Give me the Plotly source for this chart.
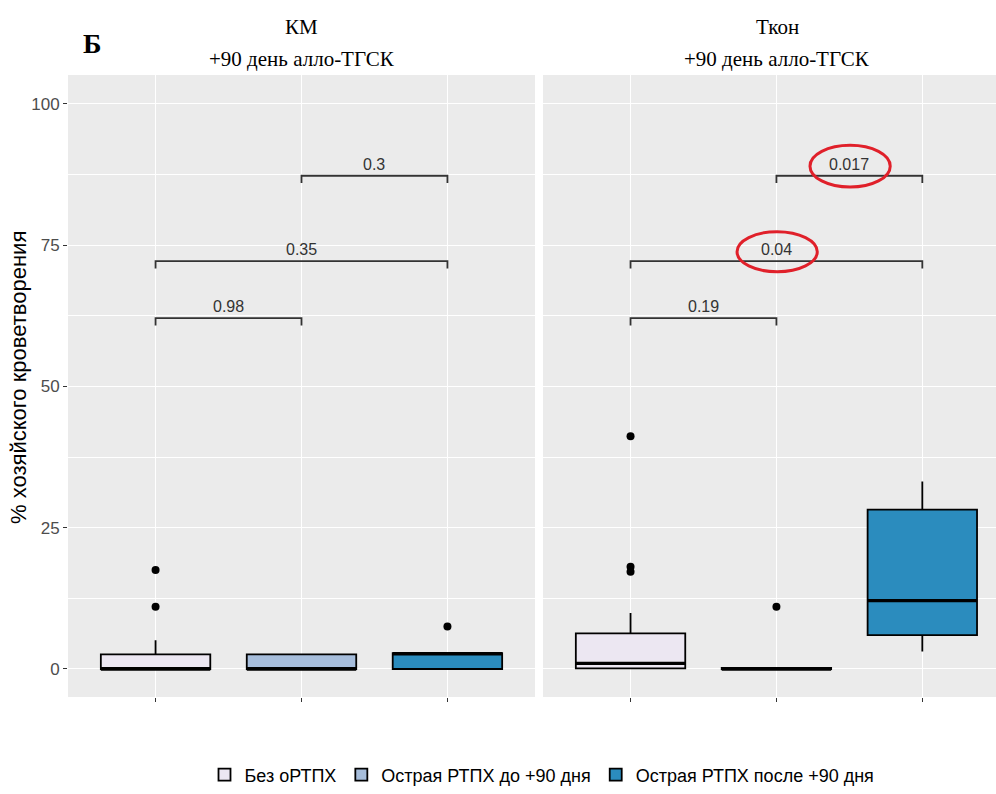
import plotly.graph_objects as go

# ---------------- data ----------------
groups = ["Без оРТПХ", "Острая РТПХ до +90 дня", "Острая РТПХ после +90 дня"]
colors = ["#ECE7F2", "#A6BDDB", "#2B8CBE"]
positions = [1, 2, 3]

panel_titles = ["КМ", "Ткон"]
panel_subtitle = "+90 день алло-ТГСК"

# KM panel (box statistics)
km_q1 = [0.0, 0.0, 0.0]
km_median = [0.0, 0.0, 2.7]
km_q3 = [2.6, 2.6, 2.8]
km_lower = [0.0, 0.0, 0.0]
km_upper = [5.1, 2.6, 2.8]
km_outliers = [[17.5, 11.0], [], [7.5]]

# Tcon panel
tc_q1 = [0.1, 0.0, 6.0]
tc_median = [1.0, 0.0, 12.1]
tc_q3 = [6.3, 0.2, 28.2]
tc_lower = [0.0, 0.0, 3.1]
tc_upper = [9.9, 0.2, 33.2]
tc_outliers = [[41.2, 18.1, 17.2], [11.0], []]

# significance brackets
bracket_pairs = [(1, 2), (1, 3), (2, 3)]
bracket_y = [62.1, 72.2, 87.3]
km_pvalues = ["0.98", "0.35", "0.3"]
tc_pvalues = ["0.19", "0.04", "0.017"]

# highlighted p-values (right panel): x0, x1, y0, y1
highlight_x0 = [1.73, 2.23]
highlight_x1 = [2.28, 2.78]
highlight_y0 = [70.3, 85.3]
highlight_y1 = [77.4, 92.7]

y_ticks = [0, 25, 50, 75, 100]
y_minor = [12.5, 37.5, 62.5, 87.5]

# ---------------- figure ----------------
W, H = 996, 794
BOX_W = 0.75
fig = go.Figure()

panels = [
    dict(xa="x", ya="y", q1=km_q1, med=km_median, q3=km_q3, lo=km_lower, hi=km_upper,
         out=km_outliers, pv=km_pvalues),
    dict(xa="x2", ya="y2", q1=tc_q1, med=tc_median, q3=tc_q3, lo=tc_lower, hi=tc_upper,
         out=tc_outliers, pv=tc_pvalues),
]

for pi, p in enumerate(panels):
    for gi, g in enumerate(groups):
        pos = positions[gi]
        fig.add_trace(go.Box(
            x=[pos], q1=[p["q1"][gi]], median=[p["med"][gi]], q3=[p["q3"][gi]],
            lowerfence=[p["lo"][gi]], upperfence=[p["hi"][gi]],
            width=BOX_W, whiskerwidth=0, boxpoints=False,
            fillcolor=colors[gi], line=dict(color="black", width=1.8),
            name=g, legendgroup=g, showlegend=(pi == 0),
            xaxis=p["xa"], yaxis=p["ya"], hoverinfo="skip",
        ))
        # thicker median line (ggplot style)
        fig.add_trace(go.Scatter(
            x=[pos - BOX_W / 2, pos + BOX_W / 2], y=[p["med"][gi], p["med"][gi]],
            mode="lines", line=dict(color="black", width=3.4),
            showlegend=False, xaxis=p["xa"], yaxis=p["ya"], hoverinfo="skip",
        ))
        if p["out"][gi]:
            fig.add_trace(go.Scatter(
                x=[pos] * len(p["out"][gi]), y=p["out"][gi], mode="markers",
                marker=dict(color="black", size=8),
                showlegend=False, xaxis=p["xa"], yaxis=p["ya"], hoverinfo="skip",
            ))
    # brackets
    for (a, b), yv, lab in zip(bracket_pairs, bracket_y, p["pv"]):
        fig.add_trace(go.Scatter(
            x=[a, a, b, b], y=[yv - 1.3, yv, yv, yv - 1.3], mode="lines",
            line=dict(color="#333333", width=1.8),
            showlegend=False, xaxis=p["xa"], yaxis=p["ya"], hoverinfo="skip",
        ))
        fig.add_annotation(
            x=(a + b) / 2, y=yv, xref=p["xa"], yref=p["ya"], text=lab,
            showarrow=False, yanchor="bottom", yshift=1,
            font=dict(family="Liberation Sans, Arial", size=16, color="#333333"),
        )

# red ellipses
for x0, x1, y0, y1 in zip(highlight_x0, highlight_x1, highlight_y0, highlight_y1):
    fig.add_shape(type="circle", xref="x2", yref="y2", x0=x0, x1=x1, y0=y0, y1=y1,
                  line=dict(color="#E0202A", width=3), layer="above")

# panel titles
left_dom = [68 / W, 535 / W]
right_dom = [543 / W, 1.0]
title_x = [301.5 / W, 777 / W]
for tx, t in zip(title_x, panel_titles):
    fig.add_annotation(x=tx, y=1 - 27 / H, xref="paper", yref="paper", text=t,
                       showarrow=False, xanchor="center", yanchor="middle",
                       font=dict(family="Liberation Serif, Times New Roman", size=21, color="black"))
    fig.add_annotation(x=tx, y=1 - 59 / H, xref="paper", yref="paper", text=panel_subtitle,
                       showarrow=False, xanchor="center", yanchor="middle",
                       font=dict(family="Liberation Serif, Times New Roman", size=21, color="black"))

fig.add_annotation(x=92 / W, y=1 - 44 / H, xref="paper", yref="paper", text="<b>Б</b>",
                   showarrow=False, xanchor="center", yanchor="middle",
                   font=dict(family="Liberation Serif, Times New Roman", size=28, color="black"))

fig.add_annotation(x=18 / W, y=1 - 378 / H, xref="paper", yref="paper",
                   text="% хозяйского кроветворения", textangle=-90,
                   showarrow=False, xanchor="center", yanchor="middle",
                   font=dict(family="Liberation Sans, Arial", size=22, color="black"))

y_dom = [1 - 697 / H, 1 - 75 / H]
yrange = [-4.96, 105.13]

xcommon = dict(tickvals=positions, showticklabels=False, ticks="outside", ticklen=4,
               tickcolor="#333333", tickwidth=1, showgrid=True, gridcolor="white",
               gridwidth=1.4, zeroline=False, showline=False, fixedrange=True)
ycommon = dict(range=yrange, tickvals=y_ticks, showgrid=True, gridcolor="white", gridwidth=1.4,
               zeroline=False, showline=False, domain=y_dom,
               minor=dict(tickvals=y_minor, showgrid=True, gridcolor="white", gridwidth=0.6, ticks=""))

fig.update_layout(
    width=W, height=H,
    margin=dict(l=0, r=0, t=0, b=0),
    paper_bgcolor="white", plot_bgcolor="#EBEBEB",
    boxmode="overlay",
    xaxis=dict(domain=left_dom, range=[0.4, 3.6], anchor="y", **xcommon),
    xaxis2=dict(domain=right_dom, range=[0.4, 3.505], anchor="y2", **xcommon),
    yaxis=dict(anchor="x", ticks="outside", ticklen=4, tickcolor="#333333", tickwidth=1,
               tickfont=dict(family="Liberation Sans, Arial", size=17, color="#4D4D4D"),
               **ycommon),
    yaxis2=dict(anchor="x2", showticklabels=False, ticks="", **ycommon),
    legend=dict(orientation="h", x=542 / W, xanchor="center", y=1 - 775 / H, yanchor="middle",
                font=dict(family="Liberation Sans, Arial", size=18, color="black"),
                itemwidth=30, tracegroupgap=0, bgcolor="rgba(0,0,0,0)"),
    showlegend=True,
)

fig.write_html("out.html")
